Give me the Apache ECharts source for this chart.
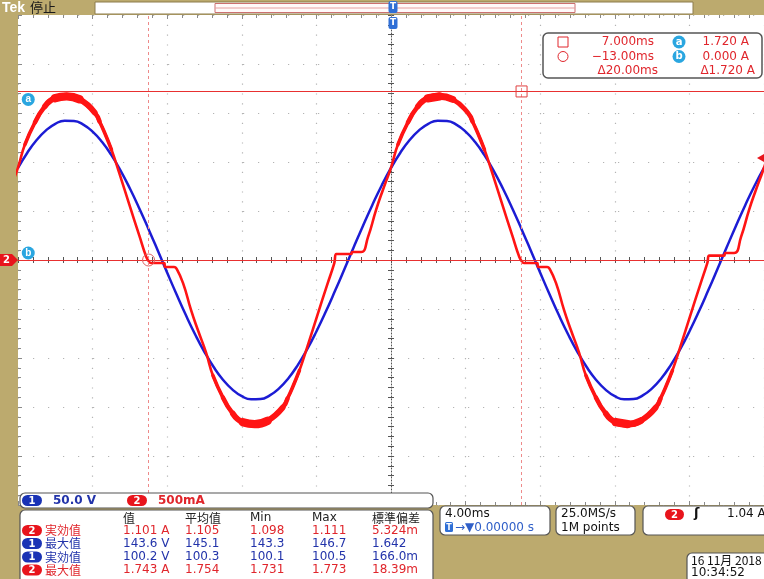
<!DOCTYPE html>
<html><head><meta charset="utf-8">
<script src="https://cdn.jsdelivr.net/npm/echarts@6.0.0/dist/echarts.min.js"></script>
<style>html,body{margin:0;padding:0;background:#bcaa6e;overflow:hidden}#c{width:764px;height:579px}</style>
</head><body><div id="c"></div>
<script>
// ---- data ----
// CH1 voltage (V) sampled every 0.5 ms
const voltTimes = [-20,-19.5,-19,-18.5,-18,-17.5,-17,-16.5,-16,-15.5,-15,-14.5,-14,-13.5,-13,-12.5,-12,-11.5,-11,-10.5,
 -10,-9.5,-9,-8.5,-8,-7.5,-7,-6.5,-6,-5.5,-5,-4.5,-4,-3.5,-3,-2.5,-2,-1.5,-1,-0.5,
 0,0.5,1,1.5,2,2.5,3,3.5,4,4.5,5,5.5,6,6.5,7,7.5,8,8.5,9,9.5,
 10,10.5,11,11.5,12,12.5,13,13.5,14,14.5,15,15.5,16,16.5,17,17.5,18,18.5,19,19.5,20];
const voltValues = [93.9,109.5,122.4,132.3,139.0,142.2,141.9,138.1,131.0,120.6,107.2,91.2,72.9,52.9,31.5,9.4,-13.0,-35.0,-56.2,-76.0,
 -93.9,-109.5,-122.4,-132.3,-139.0,-142.2,-141.9,-138.1,-131.0,-120.6,-107.2,-91.2,-72.9,-52.9,-31.5,-9.4,13.0,35.0,56.2,76.0,
 93.9,109.5,122.4,132.3,139.0,142.2,141.9,138.1,131.0,120.6,107.2,91.2,72.9,52.9,31.5,9.4,-13.0,-35.0,-56.2,-76.0,
 -93.9,-109.5,-122.4,-132.3,-139.0,-142.2,-141.9,-138.1,-131.0,-120.6,-107.2,-91.2,-72.9,-52.9,-31.5,-9.4,13.0,35.0,56.2,76.0,93.9];
// CH2 current (A)
const curTimes = [-21.60,-21.23,-20.80,-20.43,-20.00,-19.63,-19.09,-18.56,-18.03,-17.39,-16.69,-15.89,-15.63,-15.36,-14.99,-14.56,-14.03,-13.49,-13.12,-12.96,-12.85,-12.16,-12.11,-11.63,
 -11.52,-11.15,-10.72,-10.35,-9.92,-9.55,-9.01,-8.48,-7.95,-7.31,-6.61,-5.81,-5.55,-5.28,-4.91,-4.48,-3.95,-3.41,-3.04,-2.93,-2.13,-2.08,-1.60,
 -1.23,-0.80,-0.43,0.00,0.37,0.91,1.44,1.97,2.61,3.31,4.11,4.37,4.64,5.01,5.44,5.97,6.51,6.88,7.04,7.15,7.84,7.89,8.37,
 8.48,8.85,9.28,9.65,10.08,10.45,10.99,11.52,12.05,12.69,13.39,14.19,14.45,14.72,15.09,15.52,16.05,16.59,16.96,17.07,17.87,17.92,18.40,
 18.77,19.20,19.57,20.00,20.37];
const curValues = [0.082,0.236,0.512,0.717,0.943,1.178,1.404,1.568,1.650,1.670,1.639,1.506,1.414,1.301,1.127,0.881,0.564,0.246,0.031,-0.020,-0.031,-0.031,-0.072,-0.072,
 -0.082,-0.236,-0.512,-0.717,-0.943,-1.178,-1.404,-1.568,-1.655,-1.675,-1.640,-1.506,-1.414,-1.301,-1.127,-0.881,-0.564,-0.246,-0.031,0.061,0.061,0.082,0.082,
 0.236,0.512,0.717,0.943,1.178,1.404,1.568,1.650,1.670,1.639,1.506,1.414,1.301,1.127,0.881,0.564,0.246,0.031,-0.020,-0.031,-0.031,-0.072,-0.072,
 -0.082,-0.236,-0.512,-0.717,-0.943,-1.178,-1.404,-1.568,-1.655,-1.675,-1.640,-1.506,-1.414,-1.301,-1.127,-0.881,-0.564,-0.246,-0.031,0.045,0.045,0.072,0.072,
 0.236,0.512,0.717,0.943,1.178];
const curPeakTimes = [-17.39,-7.31,2.61,12.69];
// cursors / trigger
const cursorTimes = [7.0,-13.0];
const cursorAmps = [1.72,0.0];
const triggerLevel = 1.04;
// readouts
const cursorRows = [['7.000ms','a','1.720 A'],['\u221213.00ms','b','0.000 A'],['\u039420.00ms','','\u03941.720 A']];
const measHeader = ['值','平均值','Min','Max','標準偏差'];
const measRows = [
 {ch:2,name:'実効值',vals:['1.101 A','1.105','1.098','1.111','5.324m']},
 {ch:1,name:'最大值',vals:['143.6 V','145.1','143.3','146.7','1.642']},
 {ch:1,name:'実効值',vals:['100.2 V','100.3','100.1','100.5','166.0m']},
 {ch:2,name:'最大值',vals:['1.743 A','1.754','1.731','1.773','18.39m']}
];
const chScales = ['50.0 V','500mA'];

// ---- chart ----
const RED='#ff1414', BLUE='#1c1cd4', TXTR='#e0262c', TXTB='#2233aa', CYAN='#2aa6e0';
const chart = echarts.init(document.getElementById('c'));
const voltData = voltTimes.map((t,i)=>[t,voltValues[i]]);
const curData = curTimes.map((t,i)=>[t,curValues[i]]);
function nearPeaks(w){return curTimes.map((t,i)=>curPeakTimes.some(p=>Math.abs(t-p)<=w)?[t,curValues[i]]:[t,'-']);}

const gridDot='#b4b4b4', edgeTick='#8a8a8a', centerC='#555';
function xAx(extra){return Object.assign({type:'value',min:-20,max:20,interval:4,axisLabel:{show:false},splitLine:{show:false},
  axisLine:{show:false,onZero:false},axisTick:{show:true,inside:true,length:4,lineStyle:{color:edgeTick}},
  minorTick:{show:true,splitNumber:5,length:3,lineStyle:{color:edgeTick}}},extra);}
function yAx(extra){return Object.assign({type:'value',min:-2.5,max:2.5,interval:0.5,axisLabel:{show:false},splitLine:{show:false},
  axisLine:{show:false,onZero:false},axisTick:{show:true,inside:true,length:4,lineStyle:{color:edgeTick}},
  minorTick:{show:true,splitNumber:5,length:3,lineStyle:{color:edgeTick}}},extra);}
function band(w,lw){return {type:'line',xAxisIndex:0,yAxisIndex:0,data:nearPeaks(w),showSymbol:false,smooth:0.5,z:4,silent:true,
  lineStyle:{color:RED,width:lw,cap:'round',join:'round'}};}

const option = {
  animation:false,
  grid:{left:18,top:15,width:750,height:490,show:true,backgroundColor:'#ffffff',borderWidth:0},
  xAxis:[
    xAx({position:'bottom',splitLine:{show:true,lineStyle:{color:gridDot,width:1.2,type:[1.2,8.6]}}}),
    xAx({position:'top'}),
    xAx({position:'bottom',axisLine:{show:true,onZero:true,onZeroAxisIndex:0,lineStyle:{color:centerC,type:[1,2]}},
         axisTick:{show:true,inside:true,length:3,lineStyle:{color:centerC}},minorTick:{show:true,splitNumber:5,length:3,lineStyle:{color:centerC}}}),
    xAx({position:'bottom',axisLine:{show:false,onZero:true,onZeroAxisIndex:0},
         axisTick:{show:true,inside:false,length:3,lineStyle:{color:centerC}},minorTick:{show:true,splitNumber:5,length:3,lineStyle:{color:centerC}}})
  ],
  yAxis:[
    yAx({position:'left',splitLine:{show:true,lineStyle:{color:gridDot,width:1.2,type:[1.2,13.8]}}}),
    {type:'value',min:-250,max:250,interval:50,position:'right',show:false,axisLine:{onZero:false}},
    yAx({position:'left',axisLine:{show:true,onZero:true,onZeroAxisIndex:0,lineStyle:{color:centerC,type:[1,2]}},
         axisTick:{show:true,inside:true,length:3,lineStyle:{color:centerC}},minorTick:{show:true,splitNumber:5,length:3,lineStyle:{color:centerC}}}),
    yAx({position:'left',axisLine:{show:false,onZero:true,onZeroAxisIndex:0},
         axisTick:{show:true,inside:false,length:3,lineStyle:{color:centerC}},minorTick:{show:true,splitNumber:5,length:3,lineStyle:{color:centerC}}})
  ],
  series:[
    {type:'line',name:'CH1',xAxisIndex:0,yAxisIndex:1,data:voltData,showSymbol:false,smooth:0.5,z:3,
     lineStyle:{color:BLUE,width:2.5}},
    {type:'line',name:'CH2',xAxisIndex:0,yAxisIndex:0,data:curData,showSymbol:false,smooth:0.5,z:4,
     lineStyle:{color:RED,width:2.6,join:'round'},
     markLine:{silent:true,symbol:['none','none'],label:{show:false},animation:false,
       data:[
        {yAxis:cursorAmps[0],lineStyle:{color:'#e83030',width:1,type:'solid'}},
        {yAxis:cursorAmps[1],lineStyle:{color:'#e83030',width:1,type:'solid'}},
        {xAxis:cursorTimes[0],lineStyle:{color:'#ee8a8a',width:1,type:[3,3]}},
        {xAxis:cursorTimes[1],lineStyle:{color:'#ee8a8a',width:1,type:[3,3]}}
       ]},
     markPoint:{silent:true,animation:false,data:[
        {coord:[cursorTimes[0],cursorAmps[0]],symbol:'rect',symbolSize:11,itemStyle:{color:'rgba(0,0,0,0)',borderColor:'#e04040',borderWidth:1},label:{show:false}},
        {coord:[cursorTimes[1],cursorAmps[1]],symbol:'circle',symbolSize:12,itemStyle:{color:'rgba(0,0,0,0)',borderColor:'#e06060',borderWidth:1},label:{show:false}},
        {coord:[-19.45,cursorAmps[0]],symbol:'circle',symbolSize:13,symbolOffset:[0,8],itemStyle:{color:CYAN},label:{show:true,position:'inside',formatter:'a',color:'#fff',fontSize:10,fontWeight:'bold'}},
        {coord:[-19.45,cursorAmps[1]],symbol:'circle',symbolSize:13,symbolOffset:[0,-7],itemStyle:{color:CYAN},label:{show:true,position:'inside',formatter:'b',color:'#fff',fontSize:10,fontWeight:'bold'}}
     ]}},
    band(2.5,3.6), band(2.0,4.6), band(1.5,5.8), band(1.0,7.0), band(0.7,8.4)
  ]
};
chart.setOption(option);

// ---- oscilloscope screen furniture ----
const G=[];
const FONT='"DejaVu Sans", sans-serif', CJK='"Noto Sans CJK SC", sans-serif';
function T(x,y,s,fill,size,align,family,weight){G.push({type:'text',x:x,y:y,z:120,silent:true,style:{text:s,fill:fill,font:(weight||'normal')+' '+size+'px '+(family||FONT),textAlign:align||'left',textVerticalAlign:'middle',align:align||'left',verticalAlign:'middle'}});}
function R(x,y,w,h,r,fill,stroke,lw,z){G.push({type:'rect',z:z||110,silent:true,shape:{x:x,y:y,width:w,height:h,r:r},style:{fill:fill,stroke:stroke||null,lineWidth:lw||1}});}
function pill(x,y,w,h,fill,label){R(x,y,w,h,h/2,fill,null,1,115);T(x+w/2,y+h/2+0.5,label,'#fff',10,'center',FONT,'bold');}

// top bar
T(2,8,'Tek','#ffffff',14,'left','"Liberation Sans", sans-serif','bold');
T(30,7.5,'停止','#1a1a1a',13,'left',CJK);
R(95,2,598,12,0,'#ffffff','#8d7d4d',1);
R(215,3.5,360,9,0,'#fffafa','#cc7070',1);
G.push({type:'line',z:111,silent:true,shape:{x1:215,y1:8,x2:575,y2:8},style:{stroke:'#e6a0a0',lineWidth:1}});
R(388.5,1,9,12,2,'#2f6fd6',null,1,116); T(393,7,'T','#fff',9,'center',FONT,'bold');
R(388.5,17,9,12,2,'#2f6fd6',null,1,116); T(393,23,'T','#fff',9,'center',FONT,'bold');

// ground / trigger markers from axis scale
const gy = chart.convertToPixel({yAxisIndex:0},0);
G.push({type:'polygon',z:116,silent:true,shape:{points:[[0,gy-6],[12,gy-6],[18,gy],[12,gy+6],[0,gy+6]]},style:{fill:'#e8141c'}});
T(6.5,gy+0.5,'2','#fff',10,'center',FONT,'bold');
const ty = chart.convertToPixel({yAxisIndex:0},triggerLevel);
G.push({type:'polygon',z:116,silent:true,shape:{points:[[757,ty],[764,ty-4],[764,ty+4]]},style:{fill:'#e8141c'}});

// cursor readout
R(543,33,219,45,5,'#ffffff','#555555',1.5);
G.push({type:'rect',z:115,silent:true,shape:{x:558,y:37,width:10,height:10},style:{fill:'none',stroke:TXTR,lineWidth:1}});
G.push({type:'circle',z:115,silent:true,shape:{cx:563,cy:56.5,r:5},style:{fill:'none',stroke:TXTR,lineWidth:1}});
const cy=[42,56.5,71];
cursorRows.forEach((r,i)=>{
  T(i===2?658:654,cy[i],r[0],TXTR,12,'right');
  if(r[1]){G.push({type:'circle',z:115,silent:true,shape:{cx:679,cy:cy[i],r:6.5},style:{fill:CYAN}});T(679,cy[i],r[1],'#fff',10,'center',FONT,'bold');}
  T(i===2?755:749,cy[i],r[2],TXTR,12,'right');
});

// channel scale bar
R(20,493,413,15,5,'#ffffff','#555555',1.2);
pill(22,495,20,11,'#1a33b5','1'); T(53,500.5,chScales[0],TXTB,12,'left',FONT,'bold');
pill(127,495,20,11,'#e8141c','2'); T(158,500.5,chScales[1],TXTR,12,'left',FONT,'bold');

// measurement table
R(20,510,413,80,5,'#ffffff','#555555',1.2);
const colX=[123,185,250,312,372];
measHeader.forEach((h,i)=>T(colX[i],518,h,'#222222',12,'left',/[A-Za-z]/.test(h)?FONT:CJK));
const rowY=[530.5,543.5,557,570];
measRows.forEach((r,i)=>{
  const col=r.ch===2?TXTR:TXTB, pc=r.ch===2?'#e8141c':'#1a33b5';
  pill(22,rowY[i]-5.5,20,11,pc,String(r.ch));
  T(45,rowY[i],r.name,col,12,'left',CJK);
  r.vals.forEach((v,j)=>T(colX[j],rowY[i],v,col,12,'left'));
});

// timebase
R(440,506,110,29,5,'#ffffff','#555555',1.2);
T(445,514,'4.00ms','#111',12,'left');
R(445,522,8,10,1.5,'#2f6fd6',null,1,116); T(449,527.5,'T','#fff',8,'center',FONT,'bold');
T(455,527.5,'\u2192\u25bc0.00000 s','#2f5fc8',12,'left');
// sample
R(556,506,79,29,5,'#ffffff','#555555',1.2);
T(561,514,'25.0MS/s','#111',12,'left');
T(561,527.5,'1M points','#111',12,'left');
// trigger
R(643,506,130,29,5,'#ffffff','#555555',1.2);
pill(665,509,19,11,'#e8141c','2');
T(694,514,'\u0283','#111',13,'left',FONT,'bold');
T(727,514,'1.04 A','#111',12,'left');
// date
R(687,553,90,30,5,'#ffffff','#555555',1.2);
T(691,560,'16 11月 2018','#111',12,'left',CJK);
T(691,573,'10:34:52','#111',12,'left');

chart.setOption({graphic:{elements:G}});
</script></body></html>
